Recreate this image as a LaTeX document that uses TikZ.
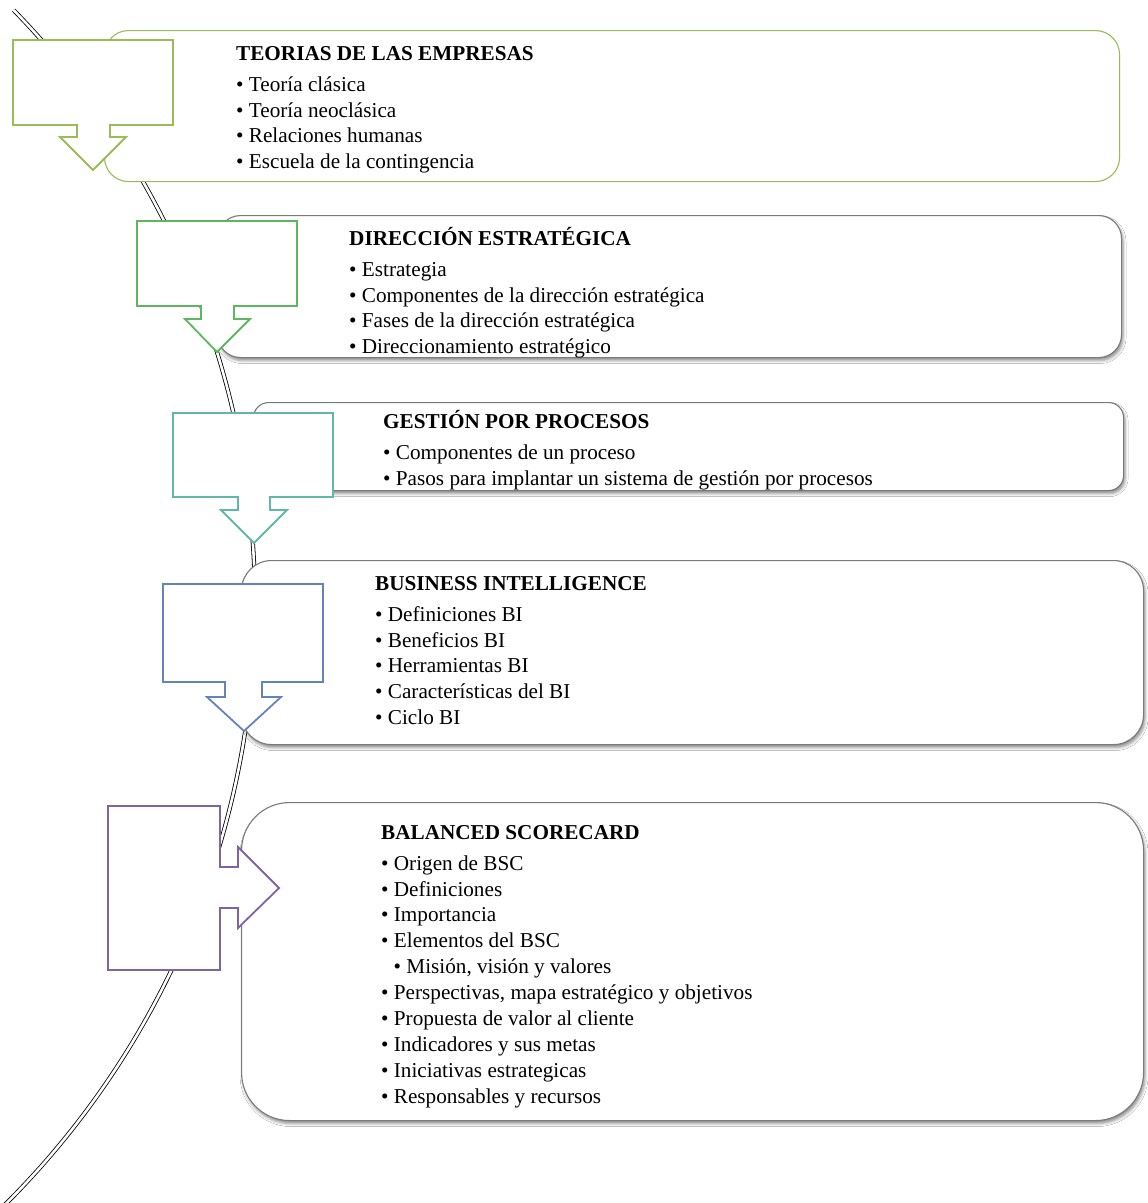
\documentclass[tikz,border=0pt]{standalone}
\usepackage{fontspec}
\setmainfont{Liberation Serif}
\usetikzlibrary{shadows.blur}

\definecolor{olivegreen}{HTML}{9BBB59}
\definecolor{leafgreen}{HTML}{5DB75F}
\definecolor{tealgreen}{HTML}{62B7A9}
\definecolor{steelblue}{HTML}{6383BE}
\definecolor{lavender}{HTML}{8064A2}
\definecolor{panelgray}{HTML}{7A7A7A}

\tikzset{
  panel/.style={rectangle, draw=panelgray, line width=1.1pt, fill=white,
    anchor=north west, inner sep=0pt},
  shadowed/.style={blur shadow={shadow xshift=1.5pt, shadow yshift=-3pt,
    shadow blur radius=3pt, shadow opacity=45}},
  callout/.style={line width=1.8pt, fill=white, line join=miter},
  listtext/.style={anchor=base west, inner sep=0pt},
  spine/.style={draw=black, line width=0.8pt, double=white, double distance=2.6pt}
}

% list text block: title on the first line, bullet items below
\newcommand{\blocktext}[2]{%
  \parbox[t]{800pt}{\fontsize{21.2}{25.9}\selectfont\textbf{#1}\\[5.2pt]#2}}
\newcommand{\itm}{\textbullet\ }
\newcommand{\subitm}{\hspace*{12.5pt}\textbullet\ }

\begin{document}
\begin{tikzpicture}[x=1pt, y=-1pt]
\useasboundingbox (0,0) rectangle (1148,1203);
\fill[white] (0,0) rectangle (1148,1203);
\clip (0,0) rectangle (1148,1203);

% curved double spine behind everything
\draw[spine] (-594,603) ++(-44.3:849) arc[start angle=-44.3, end angle=48, radius=849];

% content panels
\node[panel, draw=olivegreen, minimum width=1015pt, minimum height=151pt,
  rounded corners=24pt] (b1) at (104,30) {};
\node[panel, shadowed, minimum width=904pt, minimum height=142pt,
  rounded corners=23pt] (b2) at (217,215) {};
\node[panel, shadowed, minimum width=870pt, minimum height=88pt,
  rounded corners=15pt] (b3) at (253,402) {};
\node[panel, shadowed, minimum width=902pt, minimum height=184pt,
  rounded corners=30pt] (b4) at (241,560) {};
\node[panel, shadowed, minimum width=902pt, minimum height=318pt,
  rounded corners=48pt] (b5) at (241,802) {};

% panel texts
\node[listtext] (t1) at (236,60) {\blocktext{TEORIAS DE LAS EMPRESAS}{%
  \itm Teoría clásica\\
  \itm Teoría neoclásica\\
  \itm Relaciones humanas\\
  \itm Escuela de la contingencia}};
\node[listtext] (t2) at (349,245) {\blocktext{DIRECCIÓN ESTRATÉGICA}{%
  \itm Estrategia\\
  \itm Componentes de la dirección estratégica\\
  \itm Fases de la dirección estratégica\\
  \itm Direccionamiento estratégico}};
\node[listtext] (t3) at (383,428) {\blocktext{GESTIÓN POR PROCESOS}{%
  \itm Componentes de un proceso\\
  \itm Pasos para implantar un sistema de gestión por procesos}};
\node[listtext] (t4) at (375,590) {\blocktext{BUSINESS INTELLIGENCE}{%
  \itm Definiciones BI\\
  \itm Beneficios BI\\
  \itm Herramientas BI\\
  \itm Características del BI\\
  \itm Ciclo BI}};
\node[listtext] (t5) at (381,839) {\blocktext{BALANCED SCORECARD}{%
  \itm Origen de BSC\\
  \itm Definiciones\\
  \itm Importancia\\
  \itm Elementos del BSC\\
  \subitm Misión, visión y valores\\
  \itm Perspectivas, mapa estratégico y objetivos\\
  \itm Propuesta de valor al cliente\\
  \itm Indicadores y sus metas\\
  \itm Iniciativas estrategicas\\
  \itm Responsables y recursos}};

% arrow callouts
\draw[callout, draw=olivegreen]
  (13,40) -- (173,40) -- (173,125) -- (110,125) -- (110,137) -- (126,137)
  -- (93,170) -- (60,137) -- (77,137) -- (77,125) -- (13,125) -- cycle;
\draw[callout, draw=leafgreen]
  (137,221) -- (297,221) -- (297,306) -- (234,306) -- (234,319) -- (250,319)
  -- (217,352) -- (185,319) -- (201,319) -- (201,306) -- (137,306) -- cycle;
\draw[callout, draw=tealgreen]
  (173,413) -- (333,413) -- (333,497) -- (270,497) -- (270,510) -- (287,510)
  -- (254,543) -- (221,510) -- (238,510) -- (238,497) -- (173,497) -- cycle;
\draw[callout, draw=steelblue]
  (163,584) -- (323,584) -- (323,682) -- (262,682) -- (262,697) -- (281,697)
  -- (244,731) -- (207,697) -- (225,697) -- (225,682) -- (163,682) -- cycle;
\draw[callout, draw=lavender]
  (108,806) -- (220,806) -- (220,867) -- (238,867) -- (238,847) -- (279,888)
  -- (238,928) -- (238,908) -- (220,908) -- (220,970) -- (108,970) -- cycle;
\end{tikzpicture}
\end{document}
